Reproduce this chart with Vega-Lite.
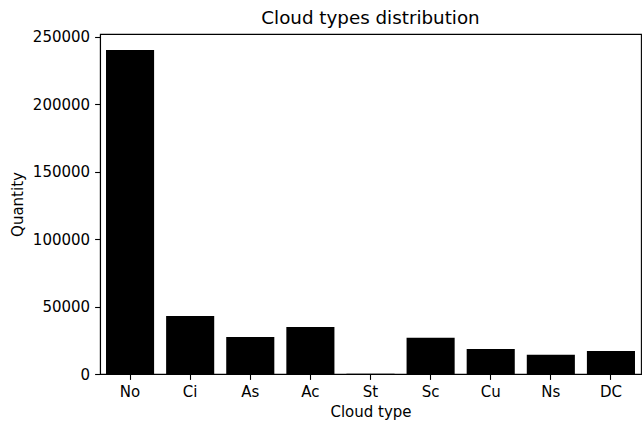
{
  "$schema": "https://vega.github.io/schema/vega-lite/v6.json",
  "width": 541,
  "height": 340,
  "autosize": {"type": "none"},
  "padding": {"left": 100, "top": 34, "right": 1, "bottom": 52},
  "background": "white",
  "title": {
    "text": "Cloud types distribution",
    "font": "DejaVu Sans",
    "fontSize": 18.3,
    "fontWeight": "normal",
    "color": "black",
    "anchor": "middle",
    "offset": 2
  },
  "data": {
    "values": [
      {"cloud": "No", "qty": 240300},
      {"cloud": "Ci", "qty": 43000},
      {"cloud": "As", "qty": 27400},
      {"cloud": "Ac", "qty": 34900},
      {"cloud": "St", "qty": 100},
      {"cloud": "Sc", "qty": 26900},
      {"cloud": "Cu", "qty": 18500},
      {"cloud": "Ns", "qty": 14300},
      {"cloud": "DC", "qty": 17000}
    ]
  },
  "mark": {"type": "bar", "color": "black"},
  "encoding": {
    "x": {
      "field": "cloud",
      "type": "nominal",
      "sort": null,
      "title": "Cloud type",
      "scale": {"paddingInner": 0.2, "paddingOuter": 0.1}
    },
    "y": {
      "field": "qty",
      "type": "quantitative",
      "title": "Quantity",
      "scale": {"domain": [0, 252200], "nice": false, "zero": true},
      "axis": {"values": [0, 50000, 100000, 150000, 200000, 250000], "format": "d"}
    }
  },
  "config": {
    "view": {"stroke": "black", "strokeWidth": 1.1},
    "axis": {
      "grid": false,
      "domainColor": "black",
      "domainWidth": 1.1,
      "tickColor": "black",
      "tickWidth": 1.1,
      "tickSize": 5.4,
      "labelFont": "DejaVu Sans",
      "labelFontSize": 15,
      "labelColor": "black",
      "labelPadding": 5,
      "titleFont": "DejaVu Sans",
      "titleFontSize": 15,
      "titleFontWeight": "normal",
      "titleColor": "black"
    },
    "axisX": {"labelAngle": 0, "titlePadding": 5},
    "axisY": {"titlePadding": 7}
  }
}
